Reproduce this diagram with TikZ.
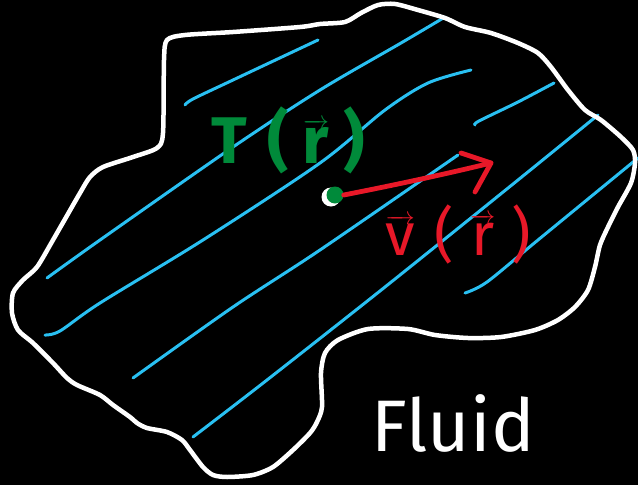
\documentclass[tikz,border=0pt]{standalone}
\usepackage{fontspec}
\setmainfont{Fira Sans}
\definecolor{cyanline}{RGB}{41,192,242}
\definecolor{greenT}{RGB}{0,138,58}
\definecolor{redV}{RGB}{232,24,40}
\tikzset{
  outline/.style={draw=white,line width=4.5pt,line join=round},
  streamline/.style={draw=cyanline,line width=3pt,line cap=round},
  redline/.style={draw=redV,line width=4.8pt,line cap=round,line join=round},
  greentext/.style={text=greenT,inner sep=0pt,font=\fontsize{66}{70}\selectfont\bfseries},
  redtext/.style={text=redV,inner sep=0pt,font=\fontsize{60}{64}\selectfont},
  whitetext/.style={text=white,inner sep=0pt,font=\fontsize{73}{78}\selectfont}
}
\begin{document}
\begin{tikzpicture}[x=1pt,y=-1pt]
\fill[black] (0,0) rectangle (638,485);
\useasboundingbox (0,0) rectangle (638,485);
% streamlines
\draw[streamline] plot[smooth,tension=0.5] coordinates {(185,105) (193,99) (233,80) (318,40)};
\draw[streamline] plot[smooth,tension=0.5] coordinates {(47,278) (100,240) (233,147) (320,90) (401,43) (445,17)};
\draw[streamline] plot[smooth,tension=0.5] coordinates {(45,335) (60,331) (100,303) (203,240) (320,163) (385,110) (428,83) (471,70)};
\draw[streamline] plot[smooth,tension=0.5] coordinates {(133,378) (233,307) (320,250) (458,155)};
\draw[streamline] plot[smooth,tension=0.5] coordinates {(193,437) (267,380) (385,287) (518,180) (598,115)};
\draw[streamline] plot[smooth,tension=0.5] coordinates {(475,125) (479,121) (518,102) (554,83)};
\draw[streamline] plot[smooth,tension=0.5] coordinates {(465,293) (487,282) (538,240) (638,158)};
% outline
\draw[outline] plot[smooth cycle,tension=0.45] coordinates {
 (167,40) (185,35) (233,32) (300,27) (320,24) (345,22) (361,13) (378,5) (395,4) (418,10)
 (445,18) (465,27) (491,33) (518,43) (538,53) (551,67) (568,90) (585,110) (601,120)
 (621,137) (633,150) (635,163) (631,183) (618,207) (608,227) (600,245) (595,267)
 (588,290) (575,307) (558,320) (535,330) (501,337) (468,338) (435,335) (408,329)
 (368,329) (338,340) (325,353) (321,373) (322,407) (317,422) (310,433) (293,450)
 (273,467) (253,475) (227,477) (213,475) (203,467) (190,450) (182,440) (167,432)
 (147,428) (137,423) (130,417) (113,405) (100,395) (77,385) (67,378) (53,363)
 (33,343) (18,330) (12,313) (13,293) (23,280) (37,267) (53,240) (80,193) (90,177)
 (103,167) (133,157) (157,148) (163,133) (164,60)};
% point
\fill[white] (331,197) circle (9.5);
\node[circle,fill=greenT,minimum size=17pt,inner sep=0pt] (dot) at (335,195) {};
% velocity arrow
\coordinate (tip) at (491,163);
\coordinate (armA) at (461,153);
\coordinate (armB) at (475,192);
\draw[redline] (dot.east) .. controls (400,184) and (450,173) .. (tip);
\draw[redline] (armA) -- (tip) -- (armB);
% labels
\node[greentext] (T) at (288,140) {T\kern20pt(\kern14pt$\overrightarrow{\mbox{r}}$\kern14pt)};
\node[redtext] (V) at (458,234) {$\overrightarrow{\mbox{v}}$\kern20pt(\kern16pt$\overrightarrow{\mbox{r}}$\kern16pt)};
\node[whitetext] (F) at (453,423) {Fluid};
\end{tikzpicture}
\end{document}
